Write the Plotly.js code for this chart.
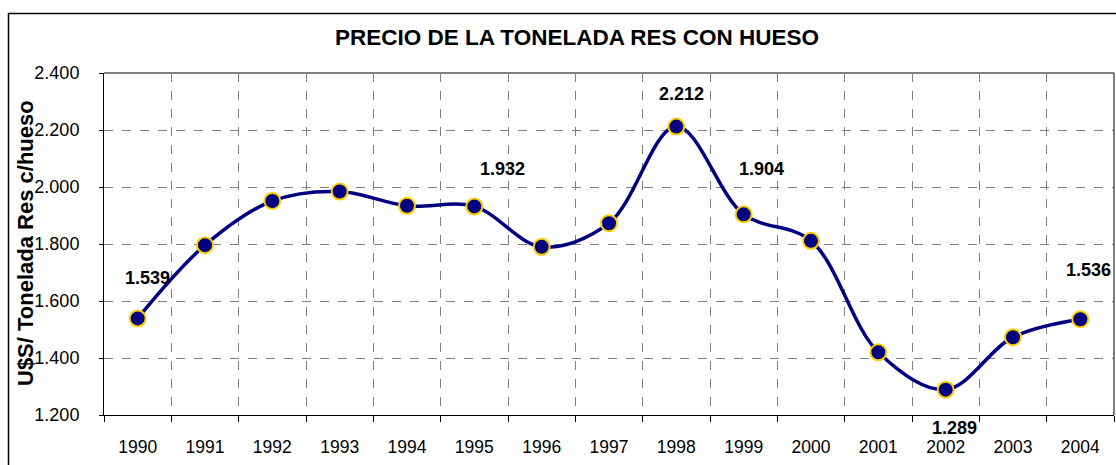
<!DOCTYPE html>
<html>
<head>
<meta charset="utf-8">
<script src="https://cdn.plot.ly/plotly-3.0.1.min.js"></script>
<style>
  html, body { margin: 0; padding: 0; background: #fff; }
  #chart { width: 1116px; height: 465px; }
</style>
</head>
<body>
<div id="chart"></div>
<script>
// ---- data ----
const years = ['1990','1991','1992','1993','1994','1995','1996','1997','1998','1999','2000','2001','2002','2003','2004'];
const prices = [1539, 1796, 1951, 1984, 1934, 1932, 1790, 1873, 2212, 1904, 1811, 1420, 1289, 1473, 1536];
const labeledYears = ['1990','1995','1998','1999','2002','2004'];
const yTicks = [1200, 1400, 1600, 1800, 2000, 2200, 2400];
const yTitle = 'U$S/ Tonelada Res c/hueso';

const FONT = '"Liberation Sans", Arial, sans-serif';

function fmt(v) { // 1539 -> "1.539"
  return (v / 1000).toFixed(3);
}

// label offsets (pixels) for data labels
const labelShift = {
  '1990': [10, 40], '1995': [28, 37], '1998': [5, 33],
  '1999': [18, 45], '2002': [9, -38], '2004': [8, 49]
};

const annotations = labeledYears.map(function (yr) {
  const i = years.indexOf(yr);
  const s = labelShift[yr];
  return {
    x: i, y: prices[i], xref: 'x', yref: 'y',
    text: '<b>' + fmt(prices[i]) + '</b>', showarrow: false,
    xshift: s[0], yshift: s[1],
    font: { family: FONT, size: 18, color: '#000' }
  };
});

// y-axis title placed as a rotated annotation for exact positioning
annotations.push({
  xref: 'paper', yref: 'paper', x: (25 - 104) / 1010, y: (415 - 243) / 342,
  xanchor: 'center', yanchor: 'middle', textangle: -90, showarrow: false,
  text: '<b>' + yTitle + '</b>',
  font: { family: FONT, size: 22, color: '#000' }
});

const trace = {
  x: years, y: prices, type: 'scatter', mode: 'lines+markers',
  line: { color: '#000080', width: 3.5, shape: 'spline', smoothing: 1 },
  marker: { color: '#000080', size: 16, line: { color: '#FFCC00', width: 2 } },
  hoverinfo: 'x+y'
};

const layout = {
  width: 1116, height: 465,
  margin: { l: 104, r: 2, t: 73, b: 50 },
  paper_bgcolor: '#fff', plot_bgcolor: '#fff',
  separators: ',.',
  showlegend: false,
  title: {
    text: '<b>PRECIO DE LA TONELADA RES CON HUESO</b>',
    font: { family: FONT, size: 22.5, color: '#000' },
    xref: 'paper', x: (577 - 104) / 1010, xanchor: 'center',
    yref: 'container', y: 1 - 37 / 465, yanchor: 'middle'
  },
  xaxis: {
    type: 'category', categoryorder: 'array', categoryarray: years,
    range: [-0.5, years.length - 0.5],
    tickson: 'boundaries',
    showgrid: true, gridcolor: '#808080', griddash: 'dash', gridwidth: 1,
    showline: true, linecolor: '#000', linewidth: 1,
    ticks: 'outside', ticklen: 6, tickcolor: '#000',
    ticklabelstandoff: 16,
    tickfont: { family: FONT, size: 17.5, color: '#000' },
    zeroline: false, fixedrange: true, automargin: false
  },
  yaxis: {
    range: [1200, 2400], tickvals: yTicks, tickformat: ',d',
    showgrid: true, gridcolor: '#808080', griddash: 'dash', gridwidth: 1,
    showline: true, linecolor: '#000', linewidth: 1,
    ticks: 'outside', ticklen: 4, tickcolor: '#000',
    ticklabelstandoff: 16,
    tickfont: { family: FONT, size: 18, color: '#000' },
    zeroline: false, fixedrange: true, automargin: false
  },
  annotations: annotations,
  shapes: [
    // plot area top & right (gray)
    { type: 'line', xref: 'paper', yref: 'paper', x0: 0, x1: 1, y0: 1, y1: 1,
      line: { color: '#808080', width: 2 } },
    { type: 'line', xref: 'paper', yref: 'paper', x0: 1, x1: 1, y0: 0, y1: 1,
      line: { color: '#808080', width: 2 } },
    // outer chart border (runs off the right and bottom edges)
    { type: 'rect', xref: 'paper', yref: 'paper',
      x0: (8.5 - 104) / 1010, x1: (1130 - 104) / 1010,
      y0: (415 - 480) / 342, y1: (415 - 13.5) / 342,
      line: { color: '#000', width: 1.5 }, fillcolor: 'rgba(0,0,0,0)' }
  ]
};

Plotly.newPlot('chart', [trace], layout, { staticPlot: true, displayModeBar: false });
</script>
</body>
</html>
